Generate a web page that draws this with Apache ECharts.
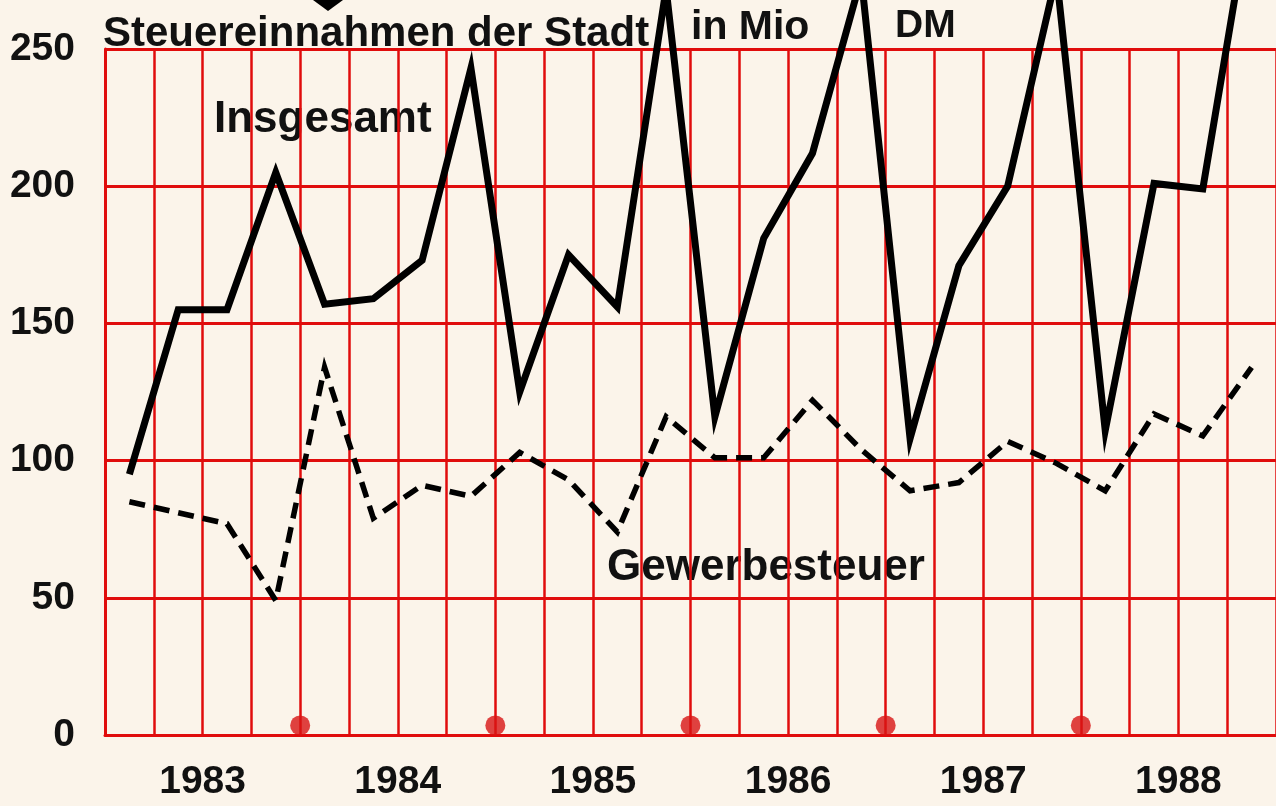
<!DOCTYPE html>
<html>
<head>
<meta charset="utf-8">
<script src="https://cdn.jsdelivr.net/npm/echarts@6/dist/echarts.min.js"></script>
<style>
  html, body { margin: 0; padding: 0; background: #fbf4ea; }
  #chart { width: 1276px; height: 806px; }
</style>
</head>
<body>
<div id="chart"></div>
<script>
// Quartale 1983 - 1988
const years = ['1983', '1984', '1985', '1986', '1987', '1988'];
const quarters = years.flatMap(y => ['I', 'II', 'III', 'IV'].map(q => q + '/' + y));

// Steuereinnahmen in Mio DM
const insgesamt = [95, 155, 155, 205, 157, 159, 173, 243, 125, 175, 156, 272,
                   116, 181, 212, 276, 108, 171, 200, 277, 111, 201, 199, 305];
const gewerbesteuer = [85, 81, 77, 49, 134, 79, 91, 87, 103, 93, 74, 116,
                       101, 101, 122, 104, 89, 92, 107, 99, 89, 117, 109, 134];

// rote Punkte an den Jahresgrenzen
const yearMarks = [4, 8, 12, 16, 20];

const red = '#e00c0c';
const font = '"Liberation Sans", Arial, sans-serif';

const chart = echarts.init(document.getElementById('chart'));

const option = {
  backgroundColor: '#fbf4ea',
  animation: false,
  grid: { left: 105, top: 49, width: 1175, bottom: 71 },
  xAxis: [
    {
      type: 'category',
      data: quarters,
      boundaryGap: true,
      axisLine: { show: true, lineStyle: { color: red, width: 3 } },
      axisTick: { show: false },
      axisLabel: { show: false },
      splitLine: { show: true, interval: 0, lineStyle: { color: red, width: 2.5 } }
    },
    {
      type: 'category',
      data: years,
      position: 'bottom',
      axisLine: { show: false },
      axisTick: { show: false },
      axisLabel: {
        color: '#111', fontFamily: font, fontWeight: 'bold', fontSize: 39, margin: 28
      },
      splitLine: { show: false }
    },
    {
      type: 'value', min: 0, max: 24, show: false
    }
  ],
  yAxis: {
    type: 'value',
    min: 0,
    max: 250,
    interval: 50,
    axisLine: { show: true, lineStyle: { color: red, width: 3 } },
    axisTick: { show: false },
    axisLabel: {
      color: '#111', fontFamily: font, fontWeight: 'bold', fontSize: 39, margin: 30
    },
    splitLine: { lineStyle: { color: red, width: 3 } }
  },
  series: [
    {
      name: 'Insgesamt',
      type: 'line',
      data: insgesamt,
      symbol: 'none',
      clip: false,
      lineStyle: { color: '#000', width: 7, join: 'miter', miterLimit: 12 },
      z: 5
    },
    {
      name: 'Gewerbesteuer',
      type: 'line',
      data: gewerbesteuer,
      symbol: 'none',
      lineStyle: { color: '#000', width: 5.5, type: [16, 9], join: 'miter', miterLimit: 12 },
      z: 5
    },
    {
      name: 'Jahre',
      type: 'scatter',
      xAxisIndex: 2,
      data: yearMarks.map(q => [q, 3.5]),
      symbolSize: 20,
      itemStyle: { color: '#d81414' },
      z: 4
    }
  ],
  graphic: [
    {
      type: 'polygon',
      shape: { points: [[313, 0], [343, 0], [328, 11]] },
      style: { fill: '#000' }
    },
    {
      type: 'text', left: 103, top: 13,
      style: { text: 'Steuereinnahmen der Stadt', font: 'bold 42px ' + font, fill: '#111' }
    },
    {
      type: 'text', left: 691, top: 7,
      style: { text: 'in Mio', font: 'bold 41px ' + font, fill: '#111' }
    },
    {
      type: 'text', left: 895, top: 7,
      style: { text: 'DM', font: 'bold 39px ' + font, fill: '#111' }
    },
    {
      type: 'text', left: 214, top: 98,
      style: { text: 'Insgesamt', font: 'bold 44px ' + font, fill: '#111' }
    },
    {
      type: 'text', left: 607, top: 546,
      style: { text: 'Gewerbesteuer', font: 'bold 44px ' + font, fill: '#111' }
    }
  ]
};

chart.setOption(option);
window.addEventListener('resize', () => chart.resize());
</script>
</body>
</html>
